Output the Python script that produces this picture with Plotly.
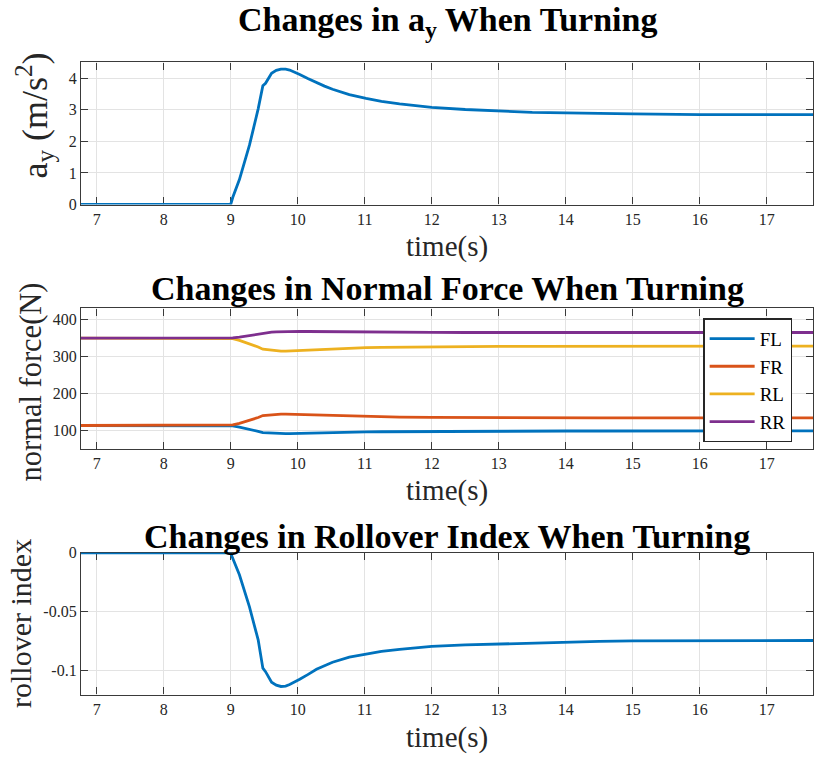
import plotly.graph_objects as go

# ---------------- data ----------------
time_s = [6.5, 9.0, 9.03, 9.13, 9.28, 9.41, 9.48, 9.52, 9.61, 9.68, 9.75, 9.82, 9.88, 9.95,
          10.03, 10.15, 10.28, 10.4, 10.52, 10.77, 11.02, 11.25, 11.52, 12.0, 12.5, 13.0,
          13.5, 14.0, 14.5, 15.0, 16.0, 17.8]

a_y = [0, 0, 0.22, 0.79, 1.88, 3.03, 3.76, 3.84, 4.16, 4.25, 4.29, 4.29, 4.26, 4.20,
       4.12, 3.99, 3.86, 3.75, 3.65, 3.48, 3.36, 3.27, 3.19, 3.08, 3.01, 2.96,
       2.92, 2.90, 2.88, 2.87, 2.85, 2.85]

force_FL = [113, 113, 112, 109, 103.5, 97.5, 94, 93.5, 92, 91.5, 91, 91, 91.2, 91.6,
            92, 92.7, 93.3, 93.9, 94.4, 95.3, 95.9, 96.3, 96.7, 97.3, 97.7, 98,
            98.2, 98.3, 98.4, 98.4, 98.5, 98.5]
force_FR = [113, 113, 114.6, 118.7, 126.5, 134.8, 140, 140.6, 143, 143.6, 144, 144, 143.7, 143.3,
            142.7, 141.8, 140.8, 140, 139.3, 138, 137.2, 136.6, 136, 135.2, 134.6, 134.2,
            134, 133.8, 133.7, 133.7, 133.5, 133.5]
force_RL = [349, 349, 347.5, 343, 334, 325, 319, 318, 315.5, 314.5, 314, 314, 314.5, 315.2,
            316, 317.3, 318.5, 319.5, 320.5, 322, 323, 323.8, 324.5, 325.5, 326, 326.5,
            326.8, 327, 327.2, 327.5, 327.5, 327.5]
force_RR = [349, 349, 349.5, 351.5, 356, 360.5, 363, 363.5, 365, 366, 366.5, 367, 367, 367,
            367, 366.8, 366.5, 366.2, 366, 365.5, 365, 364.8, 364.5, 364.2, 364, 364,
            364, 364, 364, 364, 364, 364]

rollover = [0, 0, -0.0047, -0.0186, -0.046, -0.074, -0.098, -0.101, -0.110, -0.1125, -0.1136,
            -0.1133, -0.112, -0.110, -0.1075, -0.1035, -0.099, -0.096, -0.093, -0.0886,
            -0.0858, -0.0838, -0.082, -0.0795, -0.0783, -0.0775, -0.0765, -0.0757, -0.0752,
            -0.0749, -0.0746, -0.0745]

force_names = ["FL", "FR", "RL", "RR"]
force_series = [force_FL, force_FR, force_RL, force_RR]
force_colors = ["#0072BD", "#D95319", "#EDB120", "#7E2F8E"]

x_ticks = list(range(7, 18))
ay_ticks = [0, 1, 2, 3, 4]
force_ticks = [100, 200, 300, 400]
roll_ticks = [0, -0.05, -0.1]
roll_ticklabels = ["0", "-0.05", "-0.1"]

titles = ["Changes in a<sub>y</sub> When Turning",
          "Changes in Normal Force When Turning",
          "Changes in Rollover Index When Turning"]
y_titles = ["a<sub>y</sub> (m/s<sup>2</sup>)", "normal force(N)", "rollover index"]
x_title = "time(s)"

# ---------------- figure ----------------
W, H = 814, 760
L = 81
SERIF = "Liberation Serif"
AX = "#3a3a3a"
GRID = "#e3e3e3"

fig = go.Figure()
fig.add_trace(go.Scatter(x=time_s, y=a_y, mode="lines", showlegend=False,
                         line=dict(color="#0072BD", width=2.8), xaxis="x", yaxis="y"))
for name, ser, col in zip(force_names, force_series, force_colors):
    fig.add_trace(go.Scatter(x=time_s, y=ser, mode="lines", name=name,
                             line=dict(color=col, width=2.8), xaxis="x2", yaxis="y2"))
fig.add_trace(go.Scatter(x=time_s, y=rollover, mode="lines", showlegend=False,
                         line=dict(color="#0072BD", width=2.8), xaxis="x3", yaxis="y3"))

def pdom(top_px, bot_px):
    return [1 - bot_px / H, 1 - top_px / H]

panels = [(55.7, 201.0), (307.3, 451.0), (557.3, 702.3)]
xrange_ = [6.766, 17.69]

common_x = dict(range=xrange_, tickvals=x_ticks, ticks="inside", ticklen=7, tickwidth=1.2,
                tickcolor=AX, showline=True, linecolor=AX, linewidth=1.2, mirror="ticks",
                showgrid=True, gridcolor=GRID, gridwidth=1, zeroline=False,
                tickfont=dict(family=SERIF, size=16, color="#262626"), layer="below traces")
common_y = dict(ticks="inside", ticklen=7, tickwidth=1.2, tickcolor=AX, showline=True,
                linecolor=AX, linewidth=1.2, mirror="ticks", showgrid=True, gridcolor=GRID,
                gridwidth=1, zeroline=False,
                tickfont=dict(family=SERIF, size=16, color="#262626"), layer="below traces")

layout = dict(width=W, height=H, margin=dict(l=L, r=0, t=0, b=0),
              paper_bgcolor="white", plot_bgcolor="white", showlegend=True,
              font=dict(family=SERIF, size=16, color="#262626"))
layout["xaxis"] = dict(common_x, domain=[0, 1], anchor="y")
layout["xaxis2"] = dict(common_x, domain=[0, 1], anchor="y2")
layout["xaxis3"] = dict(common_x, domain=[0, 1], anchor="y3")
layout["yaxis"] = dict(common_y, domain=pdom(*panels[0]), anchor="x", range=[0, 4.5],
                       tickvals=ay_ticks)
layout["yaxis2"] = dict(common_y, domain=pdom(*panels[1]), anchor="x2", range=[50, 429],
                        tickvals=force_ticks)
layout["yaxis3"] = dict(common_y, domain=pdom(*panels[2]), anchor="x3", range=[-0.1205, 0],
                        tickvals=roll_ticks, ticktext=roll_ticklabels)

layout["legend"] = dict(x=(704 - L) / (W - L), y=1 - 317.3 / H, xanchor="left", yanchor="top",
                        bgcolor="white", bordercolor="#262626", borderwidth=1.5,
                        font=dict(family=SERIF, size=19, color="black"),
                        tracegroupgap=0, itemwidth=45)

def px_x(p):
    return (p - L) / (W - L)

def px_y(p):
    return 1 - p / H

ann = []
title_y = [14, 287, 541]
for t, yy in zip(titles, title_y):
    ann.append(dict(text="<b>" + t + "</b>", x=0.5, y=px_y(yy), xref="paper", yref="paper",
                    xanchor="center", yanchor="middle", showarrow=False,
                    font=dict(family=SERIF, size=34, color="black")))
xt_y = [244, 494, 746]
for yy in xt_y:
    ann.append(dict(text=x_title, x=0.5, y=px_y(yy), xref="paper", yref="paper",
                    xanchor="center", yanchor="middle", showarrow=False,
                    font=dict(family=SERIF, size=29, color="#262626")))
yt_pos = [(34, 110, 36), (31, 383, 30.5), (21, 630, 30)]
for t, (xx, yy, fs) in zip(y_titles, yt_pos):
    ann.append(dict(text=t, x=px_x(xx), y=px_y(yy), xref="paper", yref="paper",
                    xanchor="center", yanchor="middle", showarrow=False, textangle=-90,
                    font=dict(family=SERIF, size=fs, color="#262626")))
layout["annotations"] = ann

fig.update_layout(layout)
fig.write_html("out.html")
